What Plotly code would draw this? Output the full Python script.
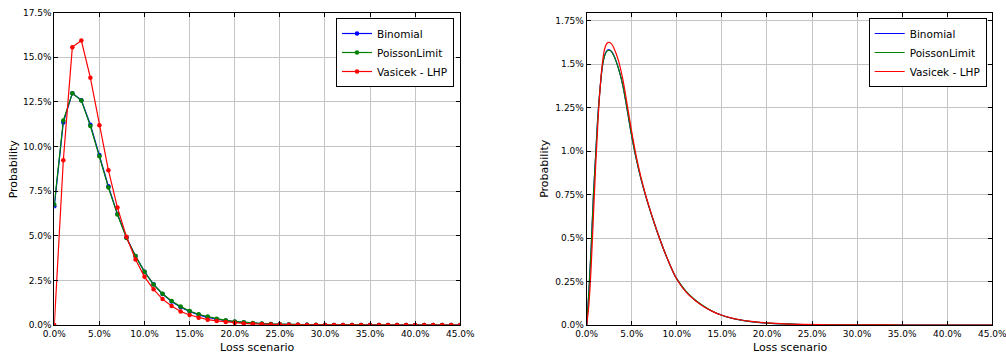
import plotly.graph_objects as go

# ---------------- Data (values in percent) ----------------
loss_coarse = list(range(0, 46))  # loss scenario, %

binomial_coarse = [6.65, 11.35, 12.99, 12.6, 11.22, 9.52, 7.77, 6.22, 4.9, 3.86,
                   2.99, 2.28, 1.74, 1.32, 1.0, 0.76, 0.57, 0.43, 0.32, 0.24,
                   0.18, 0.14, 0.1, 0.072, 0.05, 0.035, 0.024, 0.016, 0.011, 0.007,
                   0.005, 0.0035, 0.0024, 0.0016, 0.0011, 0.0007, 0.0005, 0.0003, 0.0002, 0.00013,
                   0.00009, 0.00006, 0.00004, 0.00002, 0.00001, 0.00001]
poisson_coarse = [6.75, 11.46, 12.99, 12.58, 11.15, 9.45, 7.70, 6.19, 4.87, 3.86,
                  2.98, 2.27, 1.75, 1.34, 1.03, 0.78, 0.6, 0.47, 0.35, 0.26,
                  0.2, 0.15, 0.11, 0.08, 0.058, 0.042, 0.03, 0.021, 0.015, 0.01,
                  0.007, 0.005, 0.0035, 0.0024, 0.0016, 0.0011, 0.0007, 0.0005, 0.0003, 0.0002,
                  0.00013, 0.00009, 0.00006, 0.00004, 0.00002, 0.00001]
vasicek_coarse = [0.0, 9.23, 15.57, 15.94, 13.85, 11.19, 8.67, 6.58, 4.94, 3.67,
                  2.70, 2.0, 1.45, 1.06, 0.76, 0.56, 0.41, 0.30, 0.23, 0.17,
                  0.12, 0.09, 0.065, 0.045, 0.032, 0.022, 0.015, 0.011, 0.007, 0.005,
                  0.0035, 0.0024, 0.0016, 0.0011, 0.0007, 0.0005, 0.0003, 0.0002, 0.00014, 0.0001,
                  0.00006, 0.00004, 0.00003, 0.00002, 0.00001, 0.00001]

loss_fine = [0, 0.25, 0.5, 0.75, 1.0, 1.25, 1.5, 1.75, 2.0, 2.25, 2.5, 2.75, 3.0,
             3.5, 4.0, 4.5, 5.0, 5.5, 6.0, 6.5, 7.0, 7.5, 8.0, 8.5, 9.0, 9.5, 10.0,
             11, 12, 13, 14, 15, 16, 17, 18, 19, 20, 22, 24, 26, 28, 30, 35, 40, 45]
binomial_fine = [0.0, 0.2, 0.45, 0.75, 0.98, 1.21, 1.37, 1.49, 1.552, 1.578, 1.583, 1.574, 1.552,
                 1.48, 1.38, 1.235, 1.085, 0.955, 0.845, 0.75, 0.665, 0.585, 0.51, 0.44, 0.375, 0.315, 0.265,
                 0.193, 0.144, 0.107, 0.078, 0.056, 0.04, 0.029, 0.021, 0.015, 0.011,
                 0.006, 0.003, 0.0016, 0.0008, 0.0004, 0.0001, 0.00002, 0.0]
poisson_fine = [0.0, 0.2, 0.45, 0.75, 0.98, 1.21, 1.37, 1.49, 1.55, 1.575, 1.58, 1.572, 1.55,
                1.48, 1.38, 1.235, 1.085, 0.955, 0.845, 0.75, 0.665, 0.585, 0.51, 0.44, 0.375, 0.315, 0.265,
                0.195, 0.145, 0.108, 0.078, 0.056, 0.04, 0.029, 0.021, 0.015, 0.011,
                0.006, 0.003, 0.0016, 0.0008, 0.0004, 0.0001, 0.00002, 0.0]
vasicek_fine = [0.0, 0.12, 0.34, 0.63, 0.92, 1.17, 1.37, 1.51, 1.59, 1.62, 1.625, 1.617, 1.595,
                1.525, 1.415, 1.265, 1.11, 0.97, 0.855, 0.755, 0.668, 0.587, 0.51, 0.44, 0.375, 0.315, 0.263,
                0.19, 0.142, 0.105, 0.077, 0.056, 0.041, 0.03, 0.022, 0.016, 0.012,
                0.0065, 0.0035, 0.0019, 0.001, 0.0005, 0.0001, 0.00002, 0.0]

series_names = ["Binomial", "PoissonLimit", "Vasicek - LHP"]
series_colors = ["#0000ff", "#008000", "#ff0000"]

x_tickvals = [0, 5, 10, 15, 20, 25, 30, 35, 40, 45]
x_ticktext = ["0.0%", "5.0%", "10.0%", "15.0%", "20.0%", "25.0%", "30.0%", "35.0%", "40.0%", "45.0%"]
y1_tickvals = [0, 2.5, 5, 7.5, 10, 12.5, 15, 17.5]
y1_ticktext = ["0.0%", "2.5%", "5.0%", "7.5%", "10.0%", "12.5%", "15.0%", "17.5%"]
y2_tickvals = [0, 0.25, 0.5, 0.75, 1.0, 1.25, 1.5, 1.75]
y2_ticktext = ["0.0%", "0.25%", "0.5%", "0.75%", "1.0%", "1.25%", "1.5%", "1.75%"]

# ---------------- Figure ----------------
W, H = 1006, 356
FONT = "DejaVu Sans"

fig = go.Figure()

for name, col, ys in zip(series_names, series_colors,
                         [binomial_coarse, poisson_coarse, vasicek_coarse]):
    fig.add_trace(go.Scatter(x=loss_coarse, y=ys, mode="lines+markers", name=name,
                             line=dict(color=col, width=1.2),
                             marker=dict(color=col, size=4.5),
                             xaxis="x", yaxis="y", legend="legend"))

for name, col, ys in zip(series_names, series_colors,
                         [binomial_fine, poisson_fine, vasicek_fine]):
    fig.add_trace(go.Scatter(x=loss_fine, y=ys, mode="lines", name=name,
                             line=dict(color=col, width=1.2, shape="spline", smoothing=1.0),
                             xaxis="x2", yaxis="y2", legend="legend2"))

def px_x(p):
    return p / W

def px_y(p):
    return (H - p) / H

left_dom = [px_x(54.3), px_x(460.3)]
right_dom = [px_x(586.7), px_x(992.3)]
y_dom = [px_y(325), px_y(12.7)]

axis_common = dict(showline=True, linecolor="black", linewidth=1, mirror="ticks",
                   ticks="inside", ticklen=4, tickcolor="black", tickwidth=1,
                   showgrid=True, gridcolor="#c4c4c4", gridwidth=1, zeroline=False,
                   tickfont=dict(family=FONT, size=9, color="black"),
                   automargin=False, fixedrange=True, ticklabeloverflow="allow")

fig.update_layout(
    width=W, height=H,
    margin=dict(l=0, r=0, t=0, b=0),
    paper_bgcolor="white", plot_bgcolor="white",
    font=dict(family=FONT, color="black"),
    xaxis=dict(domain=left_dom, range=[0, 45], tickvals=x_tickvals, ticktext=x_ticktext,
               anchor="y", **axis_common),
    yaxis=dict(domain=y_dom, range=[0, 17.5], tickvals=y1_tickvals, ticktext=y1_ticktext,
               anchor="x", **axis_common),
    xaxis2=dict(domain=right_dom, range=[0, 45], tickvals=x_tickvals, ticktext=x_ticktext,
                anchor="y2", **axis_common),
    yaxis2=dict(domain=y_dom, range=[0, 1.796], tickvals=y2_tickvals, ticktext=y2_ticktext,
                anchor="x2", **axis_common),
    legend=dict(x=px_x(454), y=px_y(18), xanchor="right", yanchor="top",
                bgcolor="white", bordercolor="black", borderwidth=1,
                font=dict(family=FONT, size=10.5, color="black"), tracegroupgap=0),
    legend2=dict(x=px_x(986.7), y=px_y(18), xanchor="right", yanchor="top",
                 bgcolor="white", bordercolor="black", borderwidth=1,
                 font=dict(family=FONT, size=10.5, color="black"), tracegroupgap=0),
    showlegend=True,
)

title_font = dict(family=FONT, size=11, color="black")
for xc in [(54.3 + 460.3) / 2, (586.7 + 992.3) / 2]:
    fig.add_annotation(text="Loss scenario", x=px_x(xc), y=px_y(347), xref="paper", yref="paper",
                       xanchor="center", yanchor="middle", showarrow=False, font=title_font)
for xc in [13.5, 545]:
    fig.add_annotation(text="Probability", x=px_x(xc), y=px_y((12.7 + 325) / 2), xref="paper",
                       yref="paper", xanchor="center", yanchor="middle", showarrow=False,
                       textangle=-90, font=title_font)

fig.write_html("out.html")
